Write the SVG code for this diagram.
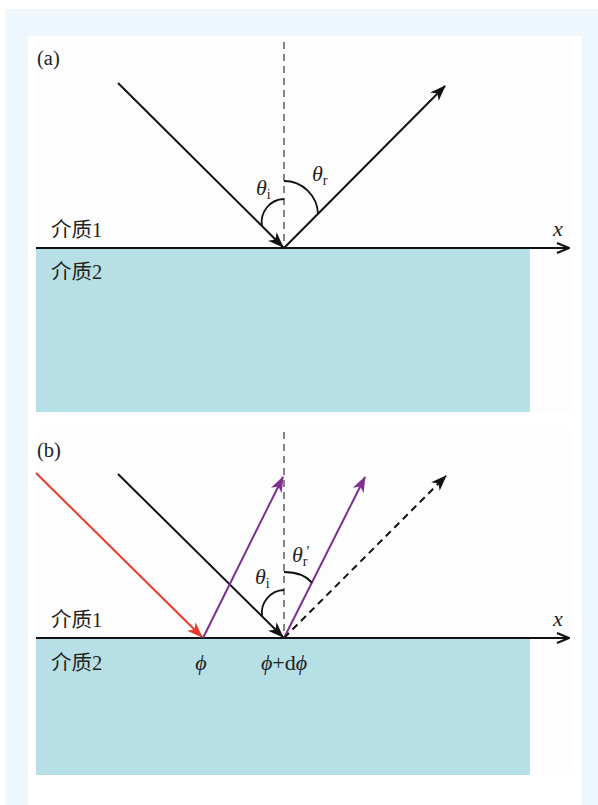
<svg xmlns="http://www.w3.org/2000/svg" width="598" height="805" viewBox="0 0 598 805">
<style>
.t{font-family:"Liberation Serif","Noto Sans CJK SC",serif;font-size:20.5px;fill:#222}
.th{font-family:"Liberation Serif",serif;font-style:italic;font-size:22px;fill:#222}
.sub{font-family:"Liberation Serif",serif;font-style:normal;font-size:14px}
.ray{stroke:#111;stroke-width:2;fill:none}
.red{stroke:#ea3b2a;stroke-width:2;fill:none}
.pur{stroke:#7f2f90;stroke-width:2;fill:none}
.nrm{stroke:#666;stroke-width:1.6;stroke-dasharray:7,5;fill:none}
.axis{stroke:#111;stroke-width:2;fill:none}
.arc{stroke:#111;stroke-width:1.8;fill:none}
.med{fill:#b7e0e6}
</style>
<defs>
<marker id="ab" viewBox="0 0 16 12" refX="15" refY="6" markerWidth="16" markerHeight="12" orient="auto" markerUnits="userSpaceOnUse"><path d="M0,0 L16,6 L0,12 L4.5,6 z" fill="#111"/></marker>
<marker id="ar" viewBox="0 0 16 12" refX="15" refY="6" markerWidth="16" markerHeight="12" orient="auto" markerUnits="userSpaceOnUse"><path d="M0,0 L16,6 L0,12 L4.5,6 z" fill="#ea3b2a"/></marker>
<marker id="ap" viewBox="0 0 16 12" refX="15" refY="6" markerWidth="16" markerHeight="12" orient="auto" markerUnits="userSpaceOnUse"><path d="M0,0 L16,6 L0,12 L4.5,6 z" fill="#7f2f90"/></marker>
<marker id="ax" viewBox="0 0 14 12" refX="13" refY="6" markerWidth="14" markerHeight="12" orient="auto" markerUnits="userSpaceOnUse"><path d="M1,1 L13,6 L1,11" fill="none" stroke="#111" stroke-width="2"/></marker>
</defs>
<g id="background">
<rect x="0" y="0" width="598" height="805" fill="#ffffff"/>
<rect x="5" y="9" width="593" height="796" fill="#eef6fe"/>
<rect x="28" y="36" width="554" height="769" fill="#ffffff"/>
<rect x="36" y="40" width="534" height="373" fill="#fdfdfd"/>
<rect x="36" y="430" width="534" height="345" fill="#fdfdfd"/>
</g>
<g id="panel-a">
<g id="medium2-a"><rect class="med" x="36" y="249" width="494" height="163"/></g>
<g id="label-a"><text class="t" x="37" y="65">(a)</text></g>
<g id="medium-labels-a">
<text class="t" x="51" y="237">介质1</text>
<text class="t" x="51" y="279">介质2</text>
</g>
<g id="theta-i-a"><text class="th" x="256" y="195">θ<tspan class="sub" dy="4">i</tspan></text></g>
<g id="theta-r-a"><text class="th" x="312" y="181">θ<tspan class="sub" dy="4">r</tspan></text></g>
<g id="x-a"><text class="th" x="553" y="236">x</text></g>
<g id="connectors-a">
<line class="nrm" x1="284" y1="42" x2="284" y2="248"/>
<line class="axis" x1="36" y1="248" x2="569" y2="248" marker-end="url(#ax)"/>
<line class="ray" x1="118" y1="83" x2="283" y2="247" marker-end="url(#ab)"/>
<line class="ray" x1="284" y1="248" x2="445" y2="86" marker-end="url(#ab)"/>
<path class="arc" d="M284,199 A23,23 0 0 0 262,226"/>
<path class="arc" d="M284,181 A34,34 0 0 1 318,214"/>
</g>
</g>
<g id="panel-b">
<g id="medium2-b"><rect class="med" x="36" y="639" width="494" height="136"/></g>
<g id="label-b"><text class="t" x="37" y="457">(b)</text></g>
<g id="medium-labels-b">
<text class="t" x="51" y="627">介质1</text>
<text class="t" x="51" y="670">介质2</text>
</g>
<g id="theta-i-b"><text class="th" x="255" y="584">θ<tspan class="sub" dy="4">i</tspan></text></g>
<g id="theta-r-b"><text class="th" x="292" y="562">θ<tspan class="sub" dy="4">r</tspan><tspan style="font-style:normal;font-size:15px" dx="-1" dy="-10">′</tspan></text></g>
<g id="x-b"><text class="th" x="553" y="626">x</text></g>
<g id="phi-labels">
<text class="th" x="201" y="670" text-anchor="middle">ϕ</text>
<text class="th" x="284" y="670" text-anchor="middle">ϕ<tspan style="font-style:normal">+d</tspan>ϕ</text>
</g>
<g id="connectors-b">
<line class="nrm" x1="284" y1="432" x2="284" y2="638"/>
<line class="axis" x1="36" y1="638" x2="569" y2="638" marker-end="url(#ax)"/>
<line class="red" x1="36" y1="473" x2="202" y2="637" marker-end="url(#ar)"/>
<line class="ray" x1="118" y1="474" x2="283" y2="637" marker-end="url(#ab)"/>
<line class="pur" x1="203" y1="638" x2="283" y2="477" marker-end="url(#ap)"/>
<line class="pur" x1="284" y1="638" x2="365" y2="477" marker-end="url(#ap)"/>
<line class="ray" x1="284" y1="638" x2="446" y2="476" stroke-dasharray="7,5" marker-end="url(#ab)"/>
<path class="arc" d="M284,590 A23,23 0 0 0 262,616"/>
<path class="arc" d="M284,572 Q303,572 312,583"/>
</g>
</g>
</svg>
